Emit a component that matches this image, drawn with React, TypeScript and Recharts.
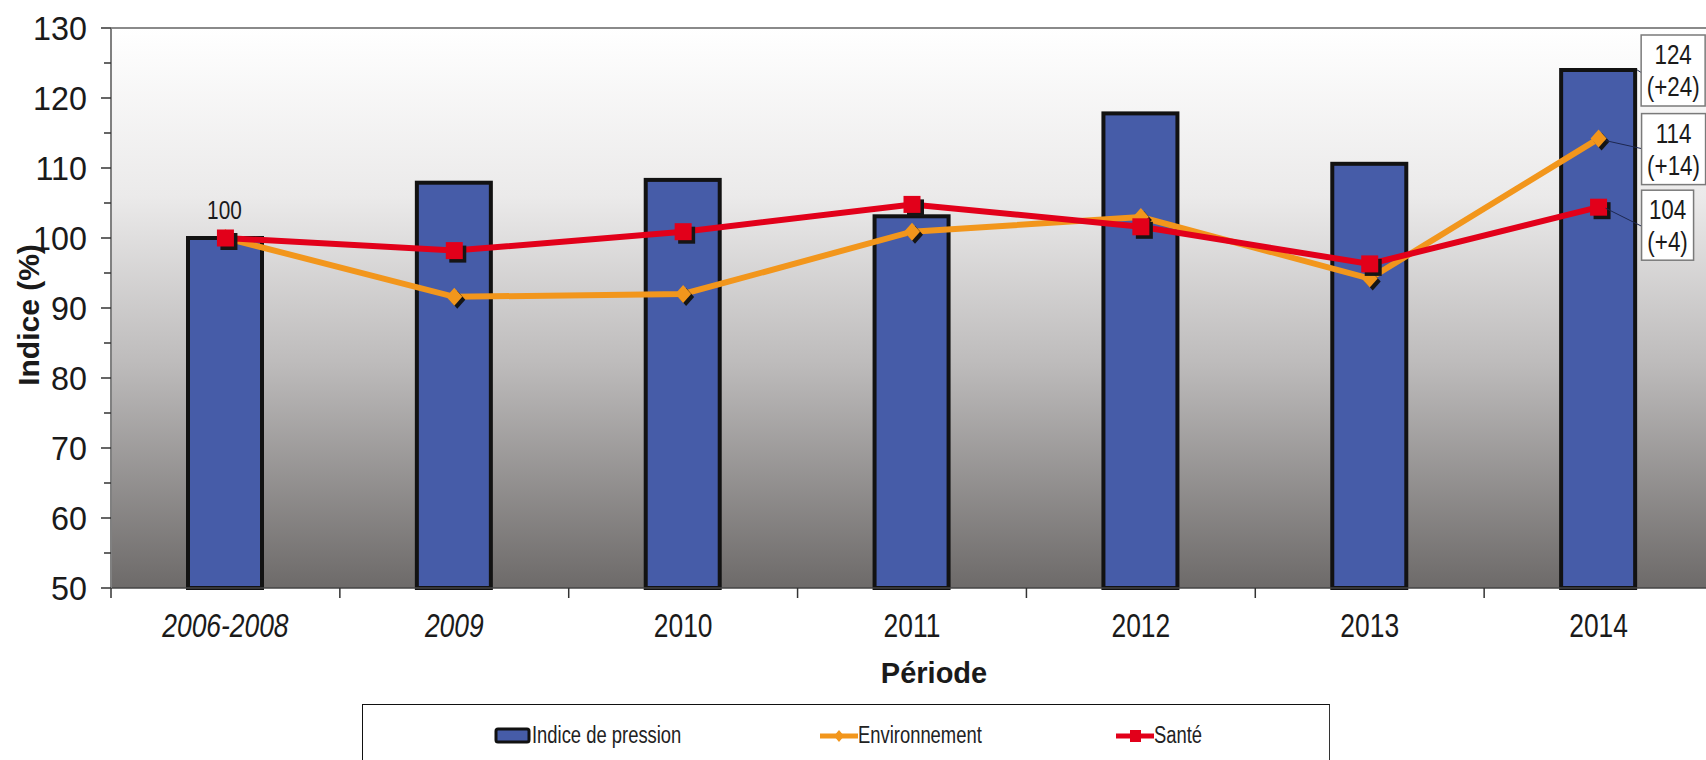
import React from "react";
import {
  Bar,
  CartesianGrid,
  ComposedChart,
  Label,
  Legend,
  Line,
  ReferenceLine,
  XAxis,
  YAxis,
} from "recharts";

const periodes = ["2006-2008", "2009", "2010", "2011", "2012", "2013", "2014"];
const pressionValues = [100, 107.9, 108.3, 103.1, 117.8, 110.6, 124];
const environnementValues = [100, 91.6, 92.0, 100.9, 103.0, 94.2, 114.2];
const santeValues = [100, 98.2, 100.9, 104.8, 101.6, 96.3, 104.4];
const yTicks = [50, 55, 60, 65, 70, 75, 80, 85, 90, 95, 100, 105, 110, 115, 120, 125, 130];
const pressionFinal = ["124", "(+24)"];
const environnementFinal = ["114", "(+14)"];
const santeFinal = ["104", "(+4)"];

const data = periodes.map((periode, i) => ({
  periode,
  pression: pressionValues[i],
  environnement: environnementValues[i],
  sante: santeValues[i],
}));

const BLUE = "#465ca8";
const ORANGE = "#f2961c";
const RED = "#e2001a";
const SANS = "'Liberation Sans', Arial, sans-serif";
const NARROW_SCALE = 0.8;
const LAST = periodes.length - 1;

const CHART_W = 1716;
const CHART_H = 760;
const Y_AXIS_W = 111;
const MARGIN = { top: 28, right: 3, bottom: 0, left: 0 };
const BAND = (CHART_W - Y_AXIS_W - MARGIN.right) / periodes.length;

// condensed text: the source uses an Arial Narrow-like face
function NText({
  x,
  y,
  size,
  anchor = "middle",
  italic = false,
  scale = NARROW_SCALE,
  children,
}: {
  x: number;
  y: number;
  size: number;
  anchor?: "start" | "middle" | "end";
  italic?: boolean;
  scale?: number;
  children: React.ReactNode;
}) {
  return (
    <text
      transform={`translate(${x},${y}) scale(${scale},1)`}
      textAnchor={anchor}
      fontFamily={SANS}
      fontSize={size}
      fontStyle={italic ? "italic" : "normal"}
      fill="#1a1a1a"
    >
      {children}
    </text>
  );
}

function ValueBox({ x, y, w, h, lines }: { x: number; y: number; w: number; h: number; lines: string[] }) {
  return (
    <g>
      <rect x={x} y={y} width={w} height={h} fill="#fff" stroke="#7a7a7a" strokeWidth={1.5} />
      <NText x={x + w / 2} y={y + 29} size={28}>
        {lines[0]}
      </NText>
      <NText x={x + w / 2} y={y + 61} size={28}>
        {lines[1]}
      </NText>
    </g>
  );
}

function PressionBar(props: any) {
  const { x, y, width, height, index } = props;
  if (x == null || height == null) return null;
  return (
    <g>
      <rect x={x} y={y} width={width} height={height} fill={BLUE} stroke="#121212" strokeWidth={4} />
      {index === LAST && (
        <>
          <line x1={x + width + 2} y1={y} x2={x + width + 7} y2={y + 3} stroke="#1d2750" strokeWidth={1} />
          <ValueBox x={x + width + 6} y={y - 35} w={64} h={71} lines={pressionFinal} />
        </>
      )}
    </g>
  );
}

function EnvDot(props: any) {
  const { cx, cy, index } = props;
  if (cx == null || cy == null) return null;
  const d = (ox: number, oy: number) =>
    `M${cx + ox},${cy + oy - 9} L${cx + ox + 8},${cy + oy} L${cx + ox},${cy + oy + 9} L${cx + ox - 8},${cy + oy} Z`;
  return (
    <g>
      <path d={d(3, 3)} fill="#151515" />
      <path d={d(0, 0)} fill={ORANGE} />
      {index === LAST && (
        <>
          <line x1={cx + 7} y1={cy + 2} x2={cx + 43} y2={cy + 10} stroke="#1d2750" strokeWidth={1} />
          <ValueBox x={cx + 43} y={cy - 25} w={64} h={71} lines={environnementFinal} />
        </>
      )}
    </g>
  );
}

function SanteDot(props: any) {
  const { cx, cy, index } = props;
  if (cx == null || cy == null) return null;
  return (
    <g>
      <rect x={cx - 5} y={cy - 5} width={17} height={17} fill="#151515" />
      <rect x={cx - 8.5} y={cy - 8.5} width={17} height={17} fill={RED} />
      {index === 0 && (
        <NText x={cx - 1} y={cy - 19} size={26}>
          {String(santeValues[0])}
        </NText>
      )}
      {index === LAST && (
        <>
          <line x1={cx + 7} y1={cy + 1} x2={cx + 43} y2={cy + 19} stroke="#1d2750" strokeWidth={1} />
          <ValueBox x={cx + 43} y={cy - 17} w={52} h={70} lines={santeFinal} />
        </>
      )}
    </g>
  );
}

function YTick(props: any) {
  const { x, y, payload } = props;
  const v = payload.value as number;
  const major = v % 10 === 0;
  return (
    <g>
      <line x1={x - (major ? 10 : 7)} x2={x} y1={y} y2={y} stroke="#333" strokeWidth={1.5} />
      {major && (
        <NText x={x - 24} y={y + 12} size={34} anchor="end" scale={0.95}>
          {v}
        </NText>
      )}
    </g>
  );
}

function XTick(props: any) {
  const { x, y, payload } = props;
  const i = periodes.indexOf(payload.value);
  return (
    <g>
      <line x1={x - BAND / 2} x2={x - BAND / 2} y1={y} y2={y + 10} stroke="#333" strokeWidth={1.5} />
      {i === LAST && <line x1={x + BAND / 2} x2={x + BAND / 2} y1={y} y2={y + 10} stroke="#333" strokeWidth={1.5} />}
      <NText x={x} y={y + 49} size={33} italic={i < 2}>
        {payload.value}
      </NText>
    </g>
  );
}

const legendItems = [
  { key: "pression", label: "Indice de pression", left: 131 },
  { key: "environnement", label: "Environnement", left: 457 },
  { key: "sante", label: "Santé", left: 753 },
];

function LegendIcon({ kind }: { kind: string }) {
  if (kind === "pression") {
    return (
      <svg width={38} height={18} style={{ display: "block" }}>
        <rect x={2} y={2} width={33} height={13} rx={2} fill={BLUE} stroke="#111" strokeWidth={3} />
      </svg>
    );
  }
  const color = kind === "sante" ? RED : ORANGE;
  return (
    <svg width={38} height={18} style={{ display: "block" }}>
      <line x1={0} x2={38} y1={9} y2={9} stroke={color} strokeWidth={5} />
      {kind === "sante" ? (
        <rect x={14} y={3} width={11} height={12} fill={color} />
      ) : (
        <path d="M19,3 L24,9 L19,15 L14,9 Z" fill={color} />
      )}
    </svg>
  );
}

function LegendBox() {
  return (
    <div
      style={{
        position: "relative",
        width: 968,
        height: 70,
        borderTop: "1.5px solid #111",
        borderLeft: "1.5px solid #111",
        borderRight: "1.5px solid #333",
        background: "#fff",
        boxSizing: "border-box",
      }}
    >
      {legendItems.map((it) => (
        <div
          key={it.key}
          style={{
            position: "absolute",
            left: it.left,
            top: 17,
            display: "flex",
            alignItems: "center",
            fontFamily: SANS,
            fontSize: 23,
            color: "#222",
            whiteSpace: "nowrap",
          }}
        >
          <LegendIcon kind={it.key} />
          <span style={{ display: "inline-block", transform: `scaleX(${NARROW_SCALE})`, transformOrigin: "left center" }}>
            {it.label}
          </span>
        </div>
      ))}
    </div>
  );
}

export default function App() {
  return (
    <div
      style={{
        position: "absolute",
        left: 0,
        top: 0,
        width: 1706,
        height: 760,
        overflow: "hidden",
        background: "#fff",
      }}
    >
      <ComposedChart width={CHART_W} height={CHART_H} data={data} margin={MARGIN}>
        <defs>
          <linearGradient id="plotBg" x1="0" y1="0" x2="0" y2="1">
            <stop offset="0%" stopColor="#ffffff" />
            <stop offset="30%" stopColor="#ebeaea" />
            <stop offset="60%" stopColor="#bdbbbb" />
            <stop offset="100%" stopColor="#6d6a69" />
          </linearGradient>
        </defs>
        <CartesianGrid horizontal={false} vertical={false} fill="url(#plotBg)" fillOpacity={1} />
        <ReferenceLine y={130} stroke="#8a8a8a" strokeWidth={2} />
        <XAxis
          dataKey="periode"
          height={CHART_H - 588}
          tickSize={0}
          tickMargin={0}
          tick={<XTick />}
          axisLine={{ stroke: "#444", strokeWidth: 1.5 }}
          interval={0}
        >
          <Label
            content={(p: any) => {
              const vb = p.viewBox;
              return (
                <text
                  x={vb.x + vb.width / 2 + 22}
                  y={vb.y + 95}
                  textAnchor="middle"
                  fontFamily={SANS}
                  fontWeight="bold"
                  fontSize={29}
                  fill="#1a1a1a"
                >
                  Période
                </text>
              );
            }}
          />
        </XAxis>
        <YAxis
          width={Y_AXIS_W}
          domain={[50, 130]}
          ticks={yTicks}
          interval={0}
          tickSize={0}
          tickMargin={0}
          tick={<YTick />}
          axisLine={{ stroke: "#808080", strokeWidth: 2 }}
        >
          <Label
            content={(p: any) => {
              const vb = p.viewBox;
              const cy = vb.y + vb.height / 2 + 7;
              return (
                <text
                  x={39}
                  y={cy}
                  transform={`rotate(-90, 39, ${cy})`}
                  textAnchor="middle"
                  fontFamily={SANS}
                  fontWeight="bold"
                  fontSize={30}
                  fill="#1a1a1a"
                >
                  Indice (%)
                </text>
              );
            }}
          />
        </YAxis>
        <Legend
          verticalAlign="middle"
          align="center"
          wrapperStyle={{ position: "absolute", left: 362, top: 704, width: 968, height: 70 }}
          content={() => <LegendBox />}
        />
        <Bar
          dataKey="pression"
          name="Indice de pression"
          barSize={74}
          fill={BLUE}
          shape={<PressionBar />}
          isAnimationActive={false}
        />
        <Line
          type="linear"
          dataKey="environnement"
          name="Environnement"
          stroke={ORANGE}
          strokeWidth={6}
          dot={<EnvDot />}
          activeDot={false}
          isAnimationActive={false}
        />
        <Line
          type="linear"
          dataKey="sante"
          name="Santé"
          stroke={RED}
          strokeWidth={6}
          dot={<SanteDot />}
          activeDot={false}
          isAnimationActive={false}
        />
      </ComposedChart>
    </div>
  );
}
